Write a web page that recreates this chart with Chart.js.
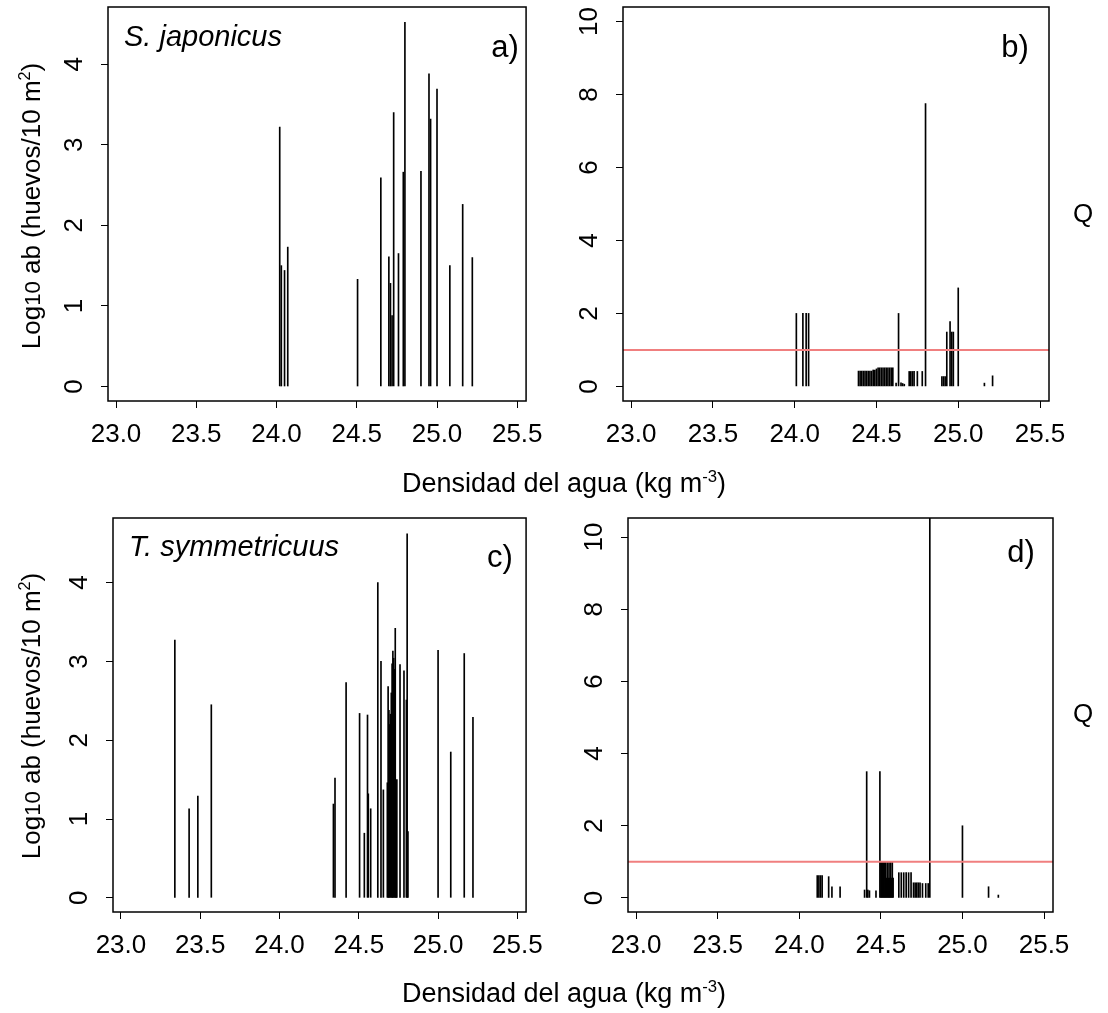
<!DOCTYPE html>
<html>
<head>
<meta charset="utf-8">
<script src="https://cdn.jsdelivr.net/npm/chart.js@4.4.1/dist/chart.umd.min.js"></script>
<style>
  body { margin: 0; background: #fff; width: 1108px; height: 1013px; position: relative; overflow: hidden;
         font-family: "Liberation Sans", Arial, sans-serif; color: #000; }
  canvas { position: absolute; }
  .txt { position: absolute; white-space: nowrap; line-height: 1; }
  .ytitle { font-size: 26px; transform: translate(-50%, -50%) rotate(-90deg); }
  .xtitle { font-size: 27px; transform: translate(-50%, -50%); }
  .sp { font-size: 29px; font-style: italic; transform: translateY(-50%); }
  .tag { font-size: 31px; transform: translate(-50%, -50%); }
  .q { font-size: 26px; transform: translate(-50%, -50%); }
  sup { font-size: 0.62em; vertical-align: 0.6em; }
  .small { font-size: 0.85em; }
</style>
</head>
<body>
<canvas id="panelA" width="554" height="470" style="left:0;top:0"></canvas>
<canvas id="panelB" width="554" height="470" style="left:554px;top:0"></canvas>
<canvas id="panelC" width="554" height="513" style="left:0;top:500px"></canvas>
<canvas id="panelD" width="554" height="513" style="left:554px;top:500px"></canvas>

<div class="txt ytitle" style="left:30px;top:206px">Log<span class="small">10</span> ab (huevos/10 m<sup>2</sup>)</div>
<div class="txt ytitle" style="left:30px;top:716px">Log<span class="small">10</span> ab (huevos/10 m<sup>2</sup>)</div>
<div class="txt xtitle" style="left:564px;top:483px">Densidad del agua (kg m<sup>-3</sup>)</div>
<div class="txt xtitle" style="left:564px;top:993px">Densidad del agua (kg m<sup>-3</sup>)</div>
<div class="txt q" style="left:1083px;top:213px">Q</div>
<div class="txt q" style="left:1083px;top:713px">Q</div>
<div class="txt sp" style="left:124px;top:36px">S. japonicus</div>
<div class="txt sp" style="left:129px;top:546px">T. symmetricuus</div>
<div class="txt tag" style="left:505px;top:46px">a)</div>
<div class="txt tag" style="left:1015px;top:46px">b)</div>
<div class="txt tag" style="left:500px;top:556px">c)</div>
<div class="txt tag" style="left:1021px;top:551px">d)</div>

<script>
// tick labels
const densTicks = [23.0, 23.5, 24.0, 24.5, 25.0, 25.5];
const abTicks = [0, 1, 2, 3, 4];
const qTicks = [0, 2, 4, 6, 8, 10];
const qRef = 1;

// a) S. japonicus, log10 abundance
const aDens = [24.02, 24.03, 24.05, 24.07, 24.505, 24.65, 24.70, 24.71, 24.72, 24.73,
               24.76, 24.79, 24.80, 24.90, 24.95, 24.96, 25.00, 25.08, 25.16, 25.22];
const aLog = [3.22, 1.50, 1.44, 1.73, 1.33, 2.59, 1.61, 1.28, 0.88, 3.40,
              1.65, 2.66, 4.52, 2.67, 3.88, 3.32, 3.69, 1.50, 2.26, 1.60];

// b) S. japonicus, Q
const bDens = [24.01, 24.05, 24.07, 24.085,
               24.39, 24.40, 24.41, 24.42, 24.43, 24.44, 24.45, 24.46, 24.47, 24.48,
               24.49, 24.50, 24.51, 24.52, 24.53, 24.54, 24.55, 24.56, 24.57, 24.58, 24.59, 24.60,
               24.62, 24.635, 24.65, 24.66, 24.67, 24.70, 24.71, 24.72, 24.73, 24.75, 24.78,
               24.80, 24.90, 24.91, 24.92, 24.93, 24.95, 24.96, 24.97, 25.00, 25.16, 25.21];
const bQ = [2, 2, 2, 2,
            0.42, 0.42, 0.42, 0.42, 0.42, 0.42, 0.42, 0.42, 0.42, 0.45,
            0.45, 0.48, 0.51, 0.51, 0.51, 0.51, 0.51, 0.51, 0.51, 0.51, 0.51, 0.51,
            0.09, 2, 0.1, 0.08, 0.06, 0.41, 0.41, 0.41, 0.41, 0.41, 0.41,
            7.75, 0.27, 0.27, 0.27, 1.49, 1.78, 1.49, 1.49, 2.70, 0.09, 0.29];

// c) T. symmetricuus, log10 abundance
const cDens = [23.34, 23.43, 23.485, 23.57, 24.34, 24.35, 24.42, 24.505, 24.535, 24.555,
               24.56, 24.575, 24.62, 24.64, 24.655, 24.68, 24.685, 24.69, 24.695, 24.70,
               24.705, 24.71, 24.715, 24.72, 24.725, 24.73, 24.735, 24.74, 24.76, 24.785,
               24.80, 24.805, 24.81, 25.00, 25.08, 25.165, 25.22];
const cLog = [3.27, 1.13, 1.29, 2.45, 1.19, 1.52, 2.73, 2.34, 0.82, 2.32,
              1.32, 1.13, 4.00, 3.00, 1.37, 1.46, 2.68, 2.38, 2.20, 2.33,
              2.60, 2.97, 3.13, 3.04, 2.90, 3.42, 1.10, 1.50, 2.96, 2.88,
              2.51, 4.62, 0.84, 3.14, 1.85, 3.10, 2.29];

// d) T. symmetricuus, Q
const dDens = [24.11, 24.12, 24.13, 24.14, 24.18, 24.20, 24.25,
               24.40, 24.413, 24.42, 24.43, 24.47, 24.494,
               24.50, 24.505, 24.51, 24.515, 24.52, 24.525, 24.53, 24.535, 24.54, 24.545,
               24.55, 24.555, 24.56, 24.565, 24.57, 24.575,
               24.61, 24.625, 24.64, 24.655, 24.67, 24.685, 24.70, 24.71, 24.72, 24.73, 24.74,
               24.755, 24.775, 24.79, 24.80, 25.00, 25.16, 25.22];
const dQ = [0.62, 0.62, 0.62, 0.62, 0.59, 0.31, 0.31,
            0.22, 3.5, 0.22, 0.2, 0.2, 3.5,
            1, 1, 1, 1, 1, 1, 1, 0.55, 1, 0.55,
            1, 0.55, 1, 0.55, 1, 0.55,
            0.7, 0.7, 0.7, 0.7, 0.7, 0.7, 0.42, 0.42, 0.42, 0.42, 0.42,
            0.4, 0.4, 0.4, 30, 2, 0.31, 0.08];

// R-like frame, abline and rotated y tick labels
const rFrame = {
  id: 'rFrame',
  afterDatasetsDraw(chart, args, opts) {
    const { ctx, chartArea: a, scales } = chart;
    ctx.save();
    if (opts.hline != null) {
      const y = scales.y.getPixelForValue(opts.hline);
      ctx.strokeStyle = '#f07f7f';
      ctx.lineWidth = 2;
      ctx.beginPath();
      ctx.moveTo(a.left, y);
      ctx.lineTo(a.right, y);
      ctx.stroke();
    }
    ctx.strokeStyle = '#000';
    ctx.lineWidth = 1.5;
    ctx.strokeRect(a.left, a.top, a.right - a.left, a.bottom - a.top);
    ctx.font = '26px "Liberation Sans", Arial, sans-serif';
    ctx.fillStyle = '#000';
    ctx.textAlign = 'center';
    ctx.textBaseline = 'middle';
    scales.y.ticks.forEach(t => {
      const y = scales.y.getPixelForValue(t.value);
      ctx.save();
      ctx.translate(a.left - 33, y);
      ctx.rotate(-Math.PI / 2);
      ctx.fillText(String(t.value), 0, 0);
      ctx.restore();
    });
    ctx.restore();
  }
};

function makePanel(id, xs, ys, yTicks, yMin, yMax, box, hline) {
  return new Chart(document.getElementById(id), {
    type: 'bar',
    data: {
      datasets: [{
        data: xs.map((x, i) => ({ x: x, y: ys[i] })),
        backgroundColor: '#000',
        borderWidth: 0,
        barThickness: 1,
        grouped: false
      }]
    },
    options: {
      responsive: false,
      animation: false,
      layout: { padding: { top: box.top, right: box.right, left: 0, bottom: 0 } },
      plugins: { legend: { display: false }, tooltip: { enabled: false }, rFrame: { hline: hline } },
      scales: {
        x: {
          type: 'linear',
          offset: false,
          min: 22.95,
          max: 25.555,
          afterBuildTicks: s => { s.ticks = densTicks.map(v => ({ value: v })); },
          afterFit: s => { s.height = box.xh; },
          border: { display: false },
          grid: { offset: false, drawOnChartArea: false, drawTicks: true, tickLength: 7, color: '#000', lineWidth: 1 },
          ticks: {
            autoSkip: false, maxRotation: 0, padding: 11, color: '#000',
            font: { family: '"Liberation Sans", Arial, sans-serif', size: 26 },
            callback: v => Number(v).toFixed(1)
          }
        },
        y: {
          type: 'linear',
          min: yMin,
          max: yMax,
          afterBuildTicks: s => { s.ticks = yTicks.map(v => ({ value: v })); },
          afterFit: s => { s.width = box.yw; },
          border: { display: false },
          grid: { drawOnChartArea: false, drawTicks: true, tickLength: 7, color: '#000', lineWidth: 1 },
          ticks: { display: false }
        }
      }
    },
    plugins: [rFrame]
  });
}

makePanel('panelA', aDens, aLog, abTicks, -0.18, 4.71, { top: 7, right: 21, xh: 69, yw: 108 }, null);
makePanel('panelB', bDens, bQ, qTicks, -0.4, 10.4, { top: 7, right: 59, xh: 69, yw: 69 }, qRef);
makePanel('panelC', cDens, cLog, abTicks, -0.18, 4.82, { top: 18, right: 16, xh: 101, yw: 113 }, null);
makePanel('panelD', dDens, dQ, qTicks, -0.39, 10.53, { top: 18, right: 55, xh: 101, yw: 74 }, qRef);
</script>
</body>
</html>
